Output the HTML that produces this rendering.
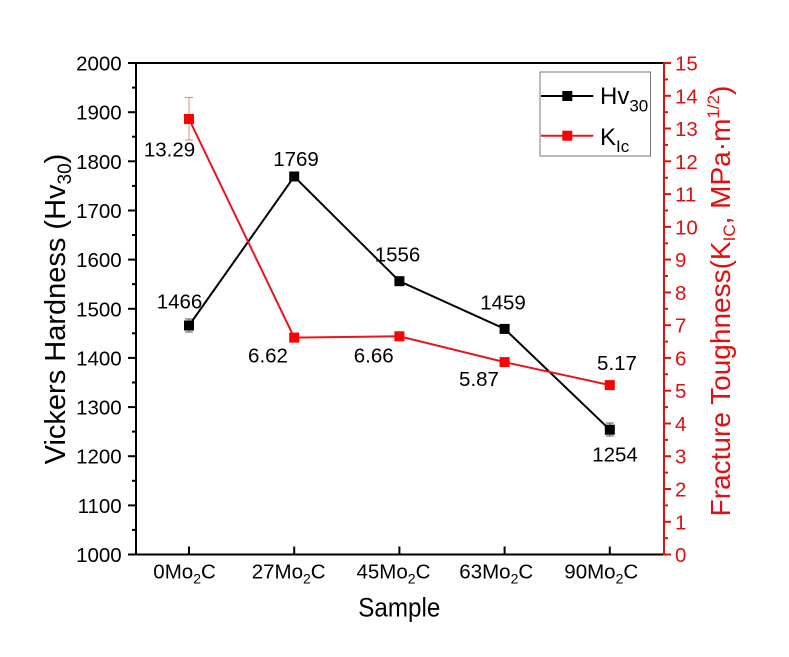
<!DOCTYPE html>
<html>
<head>
<meta charset="utf-8">
<style>
html,body{margin:0;padding:0;background:#fff;}
svg{display:block;}
text{font-family:"Liberation Sans",Arial,sans-serif;}
</style>
</head>
<body>
<svg width="789" height="657" viewBox="0 0 789 657" xmlns="http://www.w3.org/2000/svg">
<rect width="789" height="657" fill="#fff"/>

<!-- frame -->
<line x1="136" y1="63" x2="664" y2="63" stroke="#000" stroke-width="2"/>
<line x1="136" y1="554.5" x2="664" y2="554.5" stroke="#000" stroke-width="2"/>
<line x1="136" y1="62" x2="136" y2="555.5" stroke="#000" stroke-width="2"/>
<line x1="664" y1="62" x2="664" y2="555.5" stroke="#e01010" stroke-width="2"/>

<!-- left ticks -->
<g stroke="#000" stroke-width="2">
<line x1="128" y1="63" x2="136" y2="63"/>
<line x1="128" y1="112.2" x2="136" y2="112.2"/>
<line x1="128" y1="161.3" x2="136" y2="161.3"/>
<line x1="128" y1="210.5" x2="136" y2="210.5"/>
<line x1="128" y1="259.6" x2="136" y2="259.6"/>
<line x1="128" y1="308.8" x2="136" y2="308.8"/>
<line x1="128" y1="357.9" x2="136" y2="357.9"/>
<line x1="128" y1="407.1" x2="136" y2="407.1"/>
<line x1="128" y1="456.2" x2="136" y2="456.2"/>
<line x1="128" y1="505.4" x2="136" y2="505.4"/>
<line x1="128" y1="554.5" x2="136" y2="554.5"/>
<line x1="132" y1="87.6" x2="136" y2="87.6"/>
<line x1="132" y1="136.7" x2="136" y2="136.7"/>
<line x1="132" y1="185.9" x2="136" y2="185.9"/>
<line x1="132" y1="235.0" x2="136" y2="235.0"/>
<line x1="132" y1="284.2" x2="136" y2="284.2"/>
<line x1="132" y1="333.3" x2="136" y2="333.3"/>
<line x1="132" y1="382.5" x2="136" y2="382.5"/>
<line x1="132" y1="431.6" x2="136" y2="431.6"/>
<line x1="132" y1="480.8" x2="136" y2="480.8"/>
<line x1="132" y1="529.9" x2="136" y2="529.9"/>
</g>
<g font-size="20.5" text-anchor="end" fill="#000">
<text x="121.7" y="70.5">2000</text>
<text x="121.7" y="119.7">1900</text>
<text x="121.7" y="168.8">1800</text>
<text x="121.7" y="218">1700</text>
<text x="121.7" y="267.1">1600</text>
<text x="121.7" y="316.3">1500</text>
<text x="121.7" y="365.4">1400</text>
<text x="121.7" y="414.6">1300</text>
<text x="121.7" y="463.7">1200</text>
<text x="121.7" y="512.9">1100</text>
<text x="121.7" y="562">1000</text>
</g>

<!-- right ticks -->
<g stroke="#e01010" stroke-width="2">
<line x1="664" y1="63" x2="671" y2="63"/>
<line x1="664" y1="95.8" x2="671" y2="95.8"/>
<line x1="664" y1="128.5" x2="671" y2="128.5"/>
<line x1="664" y1="161.3" x2="671" y2="161.3"/>
<line x1="664" y1="194.1" x2="671" y2="194.1"/>
<line x1="664" y1="226.9" x2="671" y2="226.9"/>
<line x1="664" y1="259.6" x2="671" y2="259.6"/>
<line x1="664" y1="292.4" x2="671" y2="292.4"/>
<line x1="664" y1="325.2" x2="671" y2="325.2"/>
<line x1="664" y1="357.9" x2="671" y2="357.9"/>
<line x1="664" y1="390.7" x2="671" y2="390.7"/>
<line x1="664" y1="423.5" x2="671" y2="423.5"/>
<line x1="664" y1="456.2" x2="671" y2="456.2"/>
<line x1="664" y1="489" x2="671" y2="489"/>
<line x1="664" y1="521.8" x2="671" y2="521.8"/>
<line x1="664" y1="554.5" x2="671" y2="554.5"/>
<line x1="664" y1="79.4" x2="668" y2="79.4"/>
<line x1="664" y1="112.2" x2="668" y2="112.2"/>
<line x1="664" y1="144.9" x2="668" y2="144.9"/>
<line x1="664" y1="177.7" x2="668" y2="177.7"/>
<line x1="664" y1="210.5" x2="668" y2="210.5"/>
<line x1="664" y1="243.3" x2="668" y2="243.3"/>
<line x1="664" y1="276" x2="668" y2="276"/>
<line x1="664" y1="308.8" x2="668" y2="308.8"/>
<line x1="664" y1="341.6" x2="668" y2="341.6"/>
<line x1="664" y1="374.3" x2="668" y2="374.3"/>
<line x1="664" y1="407.1" x2="668" y2="407.1"/>
<line x1="664" y1="439.9" x2="668" y2="439.9"/>
<line x1="664" y1="472.6" x2="668" y2="472.6"/>
<line x1="664" y1="505.4" x2="668" y2="505.4"/>
<line x1="664" y1="538.2" x2="668" y2="538.2"/>
</g>
<g font-size="20.5" fill="#e01010">
<text x="675" y="70.5">15</text>
<text x="675" y="103.3">14</text>
<text x="675" y="136">13</text>
<text x="675" y="168.8">12</text>
<text x="675" y="201.6">11</text>
<text x="675" y="234.4">10</text>
<text x="675" y="267.1">9</text>
<text x="675" y="299.9">8</text>
<text x="675" y="332.7">7</text>
<text x="675" y="365.4">6</text>
<text x="675" y="398.2">5</text>
<text x="675" y="431">4</text>
<text x="675" y="463.7">3</text>
<text x="675" y="496.5">2</text>
<text x="675" y="529.3">1</text>
<text x="675" y="562">0</text>
</g>

<!-- bottom ticks (inward) -->
<g stroke="#000" stroke-width="2">
<line x1="189" y1="546.5" x2="189" y2="554.5"/>
<line x1="294.2" y1="546.5" x2="294.2" y2="554.5"/>
<line x1="399.4" y1="546.5" x2="399.4" y2="554.5"/>
<line x1="504.6" y1="546.5" x2="504.6" y2="554.5"/>
<line x1="609.8" y1="546.5" x2="609.8" y2="554.5"/>
</g>
<g font-size="20.5" fill="#000">
<text x="153.3" y="578.3">0Mo<tspan font-size="14" dy="5">2</tspan><tspan dy="-5">C</tspan></text>
<text x="251.7" y="578.3">27Mo<tspan font-size="14" dy="5">2</tspan><tspan dy="-5">C</tspan></text>
<text x="356.5" y="578.3">45Mo<tspan font-size="14" dy="5">2</tspan><tspan dy="-5">C</tspan></text>
<text x="459.3" y="578.3">63Mo<tspan font-size="14" dy="5">2</tspan><tspan dy="-5">C</tspan></text>
<text x="564.3" y="578.3">90Mo<tspan font-size="14" dy="5">2</tspan><tspan dy="-5">C</tspan></text>
</g>

<!-- axis titles -->
<text x="358.3" y="616.7" font-size="27" textLength="82" lengthAdjust="spacingAndGlyphs" fill="#000">Sample</text>
<text transform="translate(65,309) rotate(-90)" text-anchor="middle" font-size="29" fill="#000">Vickers Hardness (Hv<tspan font-size="19" dy="6">30</tspan><tspan dy="-6">)</tspan></text>
<text transform="translate(730,301) rotate(-90)" text-anchor="middle" font-size="28" fill="#e01010">Fracture Toughness(K<tspan font-size="17" dy="5">IC</tspan><tspan dy="-5">, MPa·m</tspan><tspan font-size="17" dy="-11">1/2</tspan><tspan dy="11">)</tspan></text>

<!-- error bars -->
<g stroke="#555" stroke-width="1">
<line x1="189" y1="319" x2="189" y2="332"/>
<line x1="185" y1="319" x2="193" y2="319"/>
<line x1="185" y1="332" x2="193" y2="332"/>
<line x1="609.8" y1="423" x2="609.8" y2="436"/>
<line x1="605.8" y1="423" x2="613.8" y2="423"/>
<line x1="605.8" y1="436" x2="613.8" y2="436"/>
</g>
<g stroke="#f08080" stroke-width="1">
<line x1="189" y1="97.5" x2="189" y2="140"/>
<line x1="185" y1="97.5" x2="193" y2="97.5"/>
<line x1="185" y1="140" x2="193" y2="140"/>
</g>

<!-- Hv series -->
<polyline points="189,325.5 294.2,176.5 399.4,281.2 504.6,328.9 609.8,429.7" fill="none" stroke="#000" stroke-width="2"/>
<g fill="#000">
<rect x="184" y="320.5" width="10" height="10"/>
<rect x="289.2" y="171.5" width="10" height="10"/>
<rect x="394.4" y="276.2" width="10" height="10"/>
<rect x="499.6" y="323.9" width="10" height="10"/>
<rect x="604.8" y="424.7" width="10" height="10"/>
</g>

<!-- K series -->
<polyline points="189,119 294.2,337.6 399.4,336.3 504.6,362.1 609.8,385.1" fill="none" stroke="#e8161b" stroke-width="2"/>
<g fill="#ff0000">
<rect x="184" y="114" width="10" height="10"/>
<rect x="289.2" y="332.6" width="10" height="10"/>
<rect x="394.4" y="331.3" width="10" height="10"/>
<rect x="499.6" y="357.1" width="10" height="10"/>
<rect x="604.8" y="380.1" width="10" height="10"/>
</g>

<!-- data labels -->
<g font-size="20.5" text-anchor="middle" fill="#000">
<text x="169.5" y="156.7">13.29</text>
<text x="179.5" y="308.3">1466</text>
<text x="296" y="166">1769</text>
<text x="397.5" y="261.7">1556</text>
<text x="268" y="362.3">6.62</text>
<text x="373.7" y="362.3">6.66</text>
<text x="503" y="309.3">1459</text>
<text x="479" y="386">5.87</text>
<text x="617" y="370">5.17</text>
<text x="615" y="461.7">1254</text>
</g>

<!-- legend -->
<rect x="540" y="72" width="110.5" height="84" fill="#fff" stroke="#777" stroke-width="1"/>
<line x1="541" y1="96" x2="593.3" y2="96" stroke="#000" stroke-width="2"/>
<rect x="562.3" y="91" width="10" height="10" fill="#000"/>
<line x1="541" y1="135.7" x2="593.3" y2="135.7" stroke="#e8161b" stroke-width="2"/>
<rect x="562.3" y="130.7" width="10" height="10" fill="#ff0000"/>
<text x="600" y="104" font-size="24" fill="#000">Hv<tspan font-size="17" dy="7.5">30</tspan></text>
<text x="600" y="145" font-size="24" fill="#000">K<tspan font-size="17" dy="7">Ic</tspan></text>
</svg>
</body>
</html>
